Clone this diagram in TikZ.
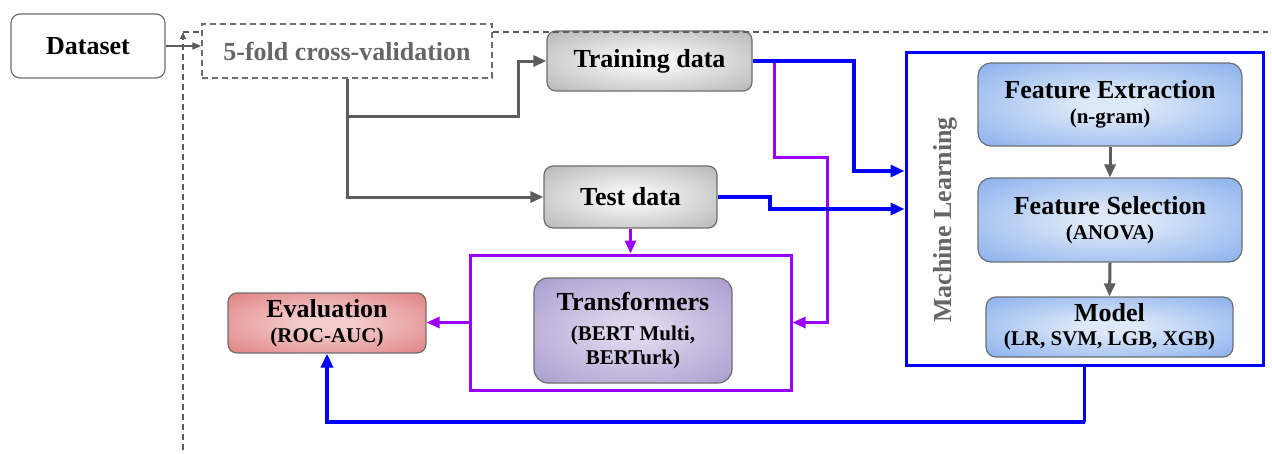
\documentclass[tikz,border=0pt]{standalone}
\usepackage{fontspec}
\setmainfont{Liberation Serif}
\usetikzlibrary{arrows.meta}

\definecolor{lineGray}{HTML}{5C5C5C}
\definecolor{edgeGray}{HTML}{6E6E6E}
\definecolor{labelGray}{HTML}{666666}
\definecolor{mlBlue}{HTML}{0000FF}
\definecolor{tfPurple}{HTML}{9900FF}
\definecolor{gIn}{HTML}{F4F4F4}
\definecolor{gOut}{HTML}{A0A0A0}
\definecolor{bIn}{HTML}{DDE8F8}
\definecolor{bOut}{HTML}{6A9BEA}
\definecolor{rIn}{HTML}{F4CECE}
\definecolor{rOut}{HTML}{D96565}
\definecolor{pIn}{HTML}{DCD5EC}
\definecolor{pOut}{HTML}{9686C4}

\pgfdeclareradialshading{greyglow}{\pgfpoint{0bp}{0bp}}{color(0bp)=(gIn); color(6bp)=(gIn); color(47bp)=(gOut); color(75bp)=(gOut)}
\pgfdeclareradialshading{blueglow}{\pgfpoint{0bp}{0bp}}{color(0bp)=(bIn); color(6bp)=(bIn); color(47bp)=(bOut); color(75bp)=(bOut)}
\pgfdeclareradialshading{redglow}{\pgfpoint{0bp}{0bp}}{color(0bp)=(rIn); color(6bp)=(rIn); color(47bp)=(rOut); color(75bp)=(rOut)}
\pgfdeclareradialshading{purpleglow}{\pgfpoint{0bp}{0bp}}{color(0bp)=(pIn); color(6bp)=(pIn); color(47bp)=(pOut); color(75bp)=(pOut)}

\newcommand{\subline}[1]{{\fontsize{21}{24}\selectfont #1}}

\begin{document}
\begin{tikzpicture}[x=1pt,y=-1pt,
  bigfont/.style={font=\fontsize{26}{28}\selectfont\bfseries},
  box/.style={draw=edgeGray, line width=1.2pt, rounded corners=9pt, inner sep=0pt,
    align=center, bigfont, text=black},
  glowgrey/.style={box, shading=greyglow},
  glowblue/.style={box, shading=blueglow, rounded corners=13pt},
  glowred/.style={box, shading=redglow},
  glowpurple/.style={box, shading=purpleglow, rounded corners=14pt},
  frame/.style={fill=white, line width=3pt, inner sep=0pt},
  gline/.style={draw=lineGray, line width=3pt, -{Triangle[length=13pt,width=11pt]}},
  bline/.style={draw=mlBlue, line width=3.4pt, -{Triangle[length=14pt,width=12pt]}},
  pline/.style={draw=tfPurple, line width=3pt, -{Triangle[length=13pt,width=11pt]}},
  loopline/.style={draw=lineGray, line width=1.3pt, dash pattern=on 6pt off 4pt}
]
\useasboundingbox (0,0) rectangle (1272,453);

% outer frames
\node[frame, draw=mlBlue, minimum width=357pt, minimum height=313pt] (ml) at (1084.5,208.5) {};
\node[frame, draw=tfPurple, minimum width=321pt, minimum height=135pt] (tbox) at (630.5,322.5) {};

% data boxes
\node[box, fill=white, minimum width=154pt, minimum height=64pt] (dataset) at (88,46) {Dataset};
\node[draw=edgeGray, line width=1.3pt, dash pattern=on 6pt off 4pt, inner sep=0pt,
  bigfont, text=labelGray, minimum width=290pt, minimum height=54pt] (cv) at (347,51) {5-fold cross-validation};
\node[glowgrey, minimum width=205pt, minimum height=60pt] (train) at (649.5,61) {Training data};
\node[glowgrey, minimum width=173pt, minimum height=62pt] (test) at (630.5,197) {Test data};

% machine learning pipeline
\node[rotate=90, bigfont, text=labelGray] (mllabel) at (945,220) {Machine Learning};
\node[glowblue, minimum width=264pt, minimum height=83pt] (fe) at (1110,104.5)
  {Feature Extraction\\[-3pt]\subline{(n-gram)}};
\node[glowblue, minimum width=264pt, minimum height=84pt] (fs) at (1110,220)
  {Feature Selection\\[-3pt]\subline{(ANOVA)}};
\node[glowblue, rounded corners=10pt, minimum width=247pt, minimum height=60pt] (model) at (1109.5,327)
  {Model\\[-4pt]\subline{(LR, SVM, LGB, XGB)}};

% transformers and evaluation
\node[glowpurple, minimum width=198pt, minimum height=105pt] (tf) at (633,330.5)
  {Transformers\\[2pt]\subline{(BERT Multi,}\\[-4pt]\subline{BERTurk)}};
\node[glowred, minimum width=198pt, minimum height=60pt] (eval) at (327,323)
  {Evaluation\\[-3pt]\subline{(ROC-AUC)}};

% bend points
\coordinate (split) at (518,116);
\coordinate (tBend) at (854,171);
\coordinate (p1) at (774,157);
\coordinate (p2) at (827,157);
\coordinate (q) at (770,209);
\coordinate (r) at (1085,422);
\coordinate (loopB) at (183,450);
\coordinate (loopT) at (183,32);
\coordinate (loopR) at (1268,32);

% cross-validation loop
\draw[loopline] (cv.east |- loopT) -- (loopR);
\draw[loopline, -{Triangle[length=7pt,width=6pt]}] (loopB) -- (loopT);
\draw[loopline] (loopT) -- (loopT -| cv.west);

% connectors
\draw[draw=lineGray, line width=1.5pt, -{Triangle[length=9pt,width=7pt]}]
  (dataset.east) -- (dataset.east -| cv.west);
\draw[gline] (cv.south) |- (split) |- (train.west);
\draw[gline] (cv.south) |- (test.west);

\draw[pline] (p1 |- train.east) -- (p1) -- (p2) -- (p2 |- tbox.east) -- (tbox.east);
\draw[bline] (train.east) -| (tBend) -- (tBend -| ml.west);
\draw[bline] (test.east) -| (q) -- (q -| ml.west);
\draw[pline] (test.south) -- (tbox.north);
\draw[pline] (tbox.west) -- (tbox.west -| eval.east);
\draw[bline] (ml.south) |- (r) -| (eval.south);

\draw[gline] (fe.south) -- (fs.north);
\draw[gline] (fs.south) -- (model.north);
\end{tikzpicture}
\end{document}
